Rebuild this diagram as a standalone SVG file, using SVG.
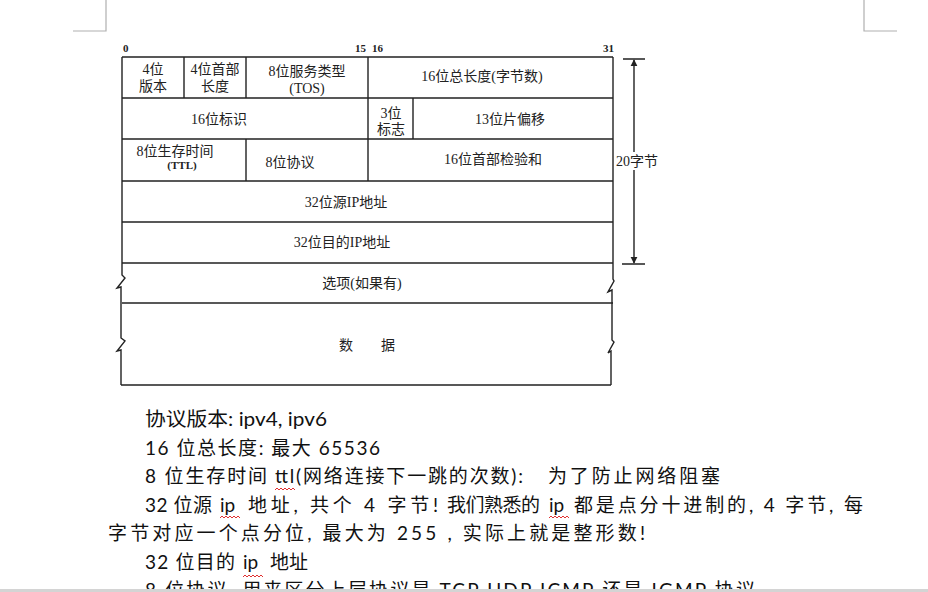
<svg xmlns="http://www.w3.org/2000/svg" width="928" height="592" viewBox="0 0 928 592">
<style>
.ln{stroke:#222;stroke-width:1.4;fill:none}
.c{font-family:"Liberation Serif","Noto Sans CJK SC",serif;font-size:14px;fill:#222;text-anchor:middle}
.b{font-family:"Liberation Serif",serif;font-size:11px;font-weight:bold;fill:#222}
.t{font-family:Lato,"Noto Sans CJK SC",sans-serif;font-size:19px;fill:#111}
.sq{stroke:#e03030;stroke-width:1;fill:none}
.pg{stroke:#b0b0b0;stroke-width:1.2;fill:none}
</style>
<defs>
<marker id="ah" viewBox="0 0 10 10" refX="9" refY="5" markerWidth="7" markerHeight="10" markerUnits="userSpaceOnUse" orient="auto">
<path d="M0,0 L10,5 L0,10 Z" fill="#222"/>
</marker>
</defs>
<rect width="928" height="592" fill="#fff"/>
<path class="pg" d="M106,0 V31 H73 M864,0 V31 H897"/>
<g id="bits">
<text class="b" x="123" y="52">0</text>
<text class="b" x="355" y="52">15</text>
<text class="b" x="372" y="52">16</text>
<text class="b" x="603" y="52">31</text>
</g>
<g id="frame">
<path class="ln" d="M122,57 H613 M122,98 H613 M122,139 H613 M122,181 H613 M122,222 H613 M122,263 H613 M122,303 H613 M121,385 H611"/>
<path class="ln" d="M122,57 V275 L125,278 L117,288 L121,287 V338 L125,341 L117,351 L121,350 V385"/>
<path class="ln" d="M613,57 V279 L614,281 L608,292 L612,290 V340 L614,342 L608,353 L611,351 V385"/>
<path class="ln" d="M184,57 V98 M246,57 V98 M368,57 V98 M368,98 V139 M413,98 V139 M246,139 V181 M368,139 V181"/>
</g>
<g id="n-version"><text class="c" x="153" y="74">4位</text><text class="c" x="153" y="91">版本</text></g>
<g id="n-hlen"><text class="c" x="215" y="74">4位首部</text><text class="c" x="215" y="91">长度</text></g>
<g id="n-tos"><text class="c" x="307" y="76">8位服务类型</text><text class="c" x="307" y="93">(TOS)</text></g>
<g id="n-totlen"><text class="c" x="482" y="81">16位总长度(字节数)</text></g>
<g id="n-id"><text class="c" x="219" y="124">16位标识</text></g>
<g id="n-flags"><text class="c" x="391" y="118">3位</text><text class="c" x="391" y="134">标志</text></g>
<g id="n-frag"><text class="c" x="510" y="124">13位片偏移</text></g>
<g id="n-ttl"><text class="c" x="175" y="156">8位生存时间</text><text class="c" x="182" y="169" style="font-size:11px;font-weight:bold">(TTL)</text></g>
<g id="n-proto"><text class="c" x="290" y="167">8位协议</text></g>
<g id="n-cksum"><text class="c" x="493" y="164">16位首部检验和</text></g>
<g id="n-src"><text class="c" x="346" y="207">32位源IP地址</text></g>
<g id="n-dst"><text class="c" x="342" y="247">32位目的IP地址</text></g>
<g id="n-opt"><text class="c" x="362" y="288">选项(如果有)</text></g>
<g id="n-data"><text class="c" x="367" y="350">数　　据</text></g>
<g id="connectors">
<path class="ln" d="M623,59 H645 M622,264 H645"/>
<path class="ln" d="M634,152 V60" marker-end="url(#ah)"/>
<path class="ln" d="M634,170 V263" marker-end="url(#ah)"/>
</g>
<text class="c" x="637" y="166">20字节</text>
<g id="notes">
<text class="t" x="145" y="426" textLength="182" lengthAdjust="spacingAndGlyphs">协议版本: ipv4, ipv6</text>
<text class="t" x="145" y="455" textLength="235" lengthAdjust="spacing">16 位总长度:  最大 65536</text>
<text class="t" x="145" y="483" textLength="122" lengthAdjust="spacing">8 位生存时间</text>
<text class="t" x="275" y="483" textLength="248" lengthAdjust="spacing">ttl(网络连接下一跳的次数):</text>
<text class="t" x="548" y="483" textLength="172" lengthAdjust="spacing">为了防止网络阻塞</text>
<text class="t" x="145" y="512" textLength="67" lengthAdjust="spacing">32 位源</text>
<text class="t" x="220" y="512">ip</text>
<text class="t" x="248" y="512" textLength="190" lengthAdjust="spacing">地址, 共个 4 字节!</text>
<text class="t" x="447" y="512" textLength="93" lengthAdjust="spacing">我们熟悉的</text>
<text class="t" x="549" y="512">ip</text>
<text class="t" x="574" y="512" textLength="289" lengthAdjust="spacing">都是点分十进制的, 4 字节, 每</text>
<text class="t" x="108" y="540" textLength="537" lengthAdjust="spacing">字节对应一个点分位,  最大为 255  ,  实际上就是整形数!</text>
<text class="t" x="145" y="569" textLength="90" lengthAdjust="spacing">32 位目的</text>
<text class="t" x="243" y="569">ip</text>
<text class="t" x="270" y="569" textLength="38" lengthAdjust="spacing">地址</text>
<text class="t" x="145" y="597" textLength="610" lengthAdjust="spacing">8 位协议, 用来区分上层协议是 TCP UDP ICMP 还是 IGMP 协议</text>
<path class="sq" d="M275,490 l2,-2 l2,2 l2,-2 l2,2 l2,-2 l2,2 l2,-2 l2,2 l2,-2 l2,2"/>
<path class="sq" d="M220,518 l2,-2 l2,2 l2,-2 l2,2 l2,-2 l2,2 l2,-2 l2,2 l2,-2 l2,2"/>
<path class="sq" d="M549,518 l2,-2 l2,2 l2,-2 l2,2 l2,-2 l2,2 l2,-2 l2,2 l2,-2 l2,2"/>
<path class="sq" d="M243,577 l2,-2 l2,2 l2,-2 l2,2 l2,-2 l2,2 l2,-2 l2,2 l2,-2 l2,2"/>
</g>
<rect x="0" y="589" width="928" height="3" fill="#d4d4d4"/>
</svg>
